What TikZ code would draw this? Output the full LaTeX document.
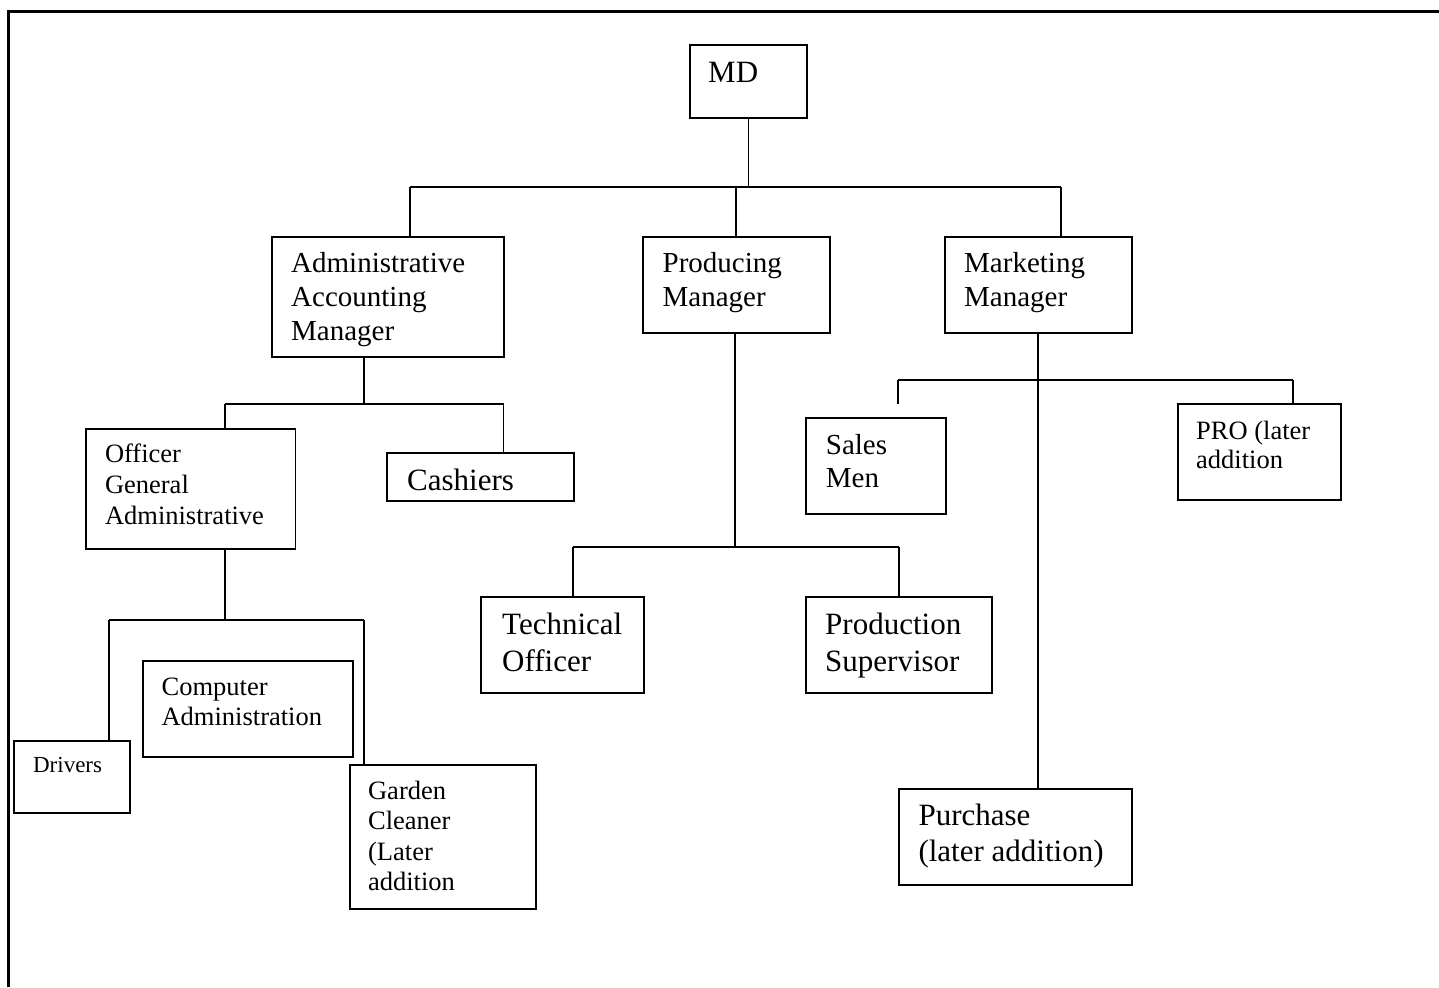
\documentclass[tikz,border=0pt]{standalone}
\usepackage{fontspec}
\setmainfont{Liberation Serif}
\newcommand\fsz[2]{\fontsize{#1}{#2}\selectfont}
\begin{document}
\begin{tikzpicture}[x=1pt,y=-1pt,
  box/.style={draw, line width=1.9pt, inner sep=0pt, anchor=north west},
  txt/.style={anchor=base west, inner sep=0pt, align=left},
  conn/.style={line width=1.9pt},
  frame/.style={line width=3pt}]
\useasboundingbox (0,0) rectangle (1439,987);
\draw[frame] (1439,12) -- (8,12) -- (8,987);

% boxes
\node[box, minimum width=117pt, minimum height=73pt] (md) at (689,44) {};
\node[box, minimum width=232pt, minimum height=120pt] (admin) at (271,236) {};
\node[box, minimum width=186.6pt, minimum height=96pt] (prod) at (642,236) {};
\node[box, minimum width=186.7pt, minimum height=96pt] (mkt) at (944,236) {};
\node[box, minimum width=209.5pt, minimum height=120pt] (off) at (85,428) {};
\node[box, minimum width=187pt, minimum height=48pt] (cash) at (386.4,452) {};
\node[box, minimum width=116.4pt, minimum height=71.7pt] (drv) at (12.9,740) {};
\node[box, minimum width=209.7pt, minimum height=95.7pt] (comp) at (142.1,660) {};
\node[box, minimum width=186pt, minimum height=144pt] (gar) at (348.6,764) {};
\node[box, minimum width=163.6pt, minimum height=96.6pt] (tech) at (479.6,595.7) {};
\node[box, minimum width=186pt, minimum height=96.6pt] (psup) at (805.4,595.7) {};
\node[box, minimum width=139.7pt, minimum height=96pt] (sales) at (805,417.3) {};
\node[box, minimum width=163.3pt, minimum height=96pt] (pro) at (1176.7,403.3) {};
\node[box, minimum width=233pt, minimum height=96pt] (pur) at (897.7,788) {};

% texts (positioned by the baseline of their last line)
\node[txt, font=\fsz{31}{36}] (tmd) at (708,83) {MD};
\node[txt, font=\fsz{29}{34}] (tadmin) at (291,340.7) {Administrative\\Accounting\\Manager};
\node[txt, font=\fsz{29}{34}] (tprod) at (662.5,306.7) {Producing\\Manager};
\node[txt, font=\fsz{29}{34}] (tmkt) at (964,306.7) {Marketing\\Manager};
\node[txt, font=\fsz{26.5}{30.7}] (toff) at (104.8,524.1) {Officer\\General\\Administrative};
\node[txt, font=\fsz{31}{36}] (tcash) at (407,490) {Cashiers};
\node[txt, font=\fsz{23}{27}] (tdrv) at (32.9,772) {Drivers};
\node[txt, font=\fsz{26.5}{30}] (tcomp) at (161.4,725) {Computer\\Administration};
\node[txt, font=\fsz{26.5}{30.6}] (tgar) at (367.9,890.8) {Garden\\Cleaner\\(Later\\addition};
\node[txt, font=\fsz{31}{36.7}] (ttech) at (502,671) {Technical\\Officer};
\node[txt, font=\fsz{31}{36.7}] (tpsup) at (825,671) {Production\\Supervisor};
\node[txt, font=\fsz{29}{33.7}] (tsales) at (825.7,487.7) {Sales\\Men};
\node[txt, font=\fsz{26.5}{29.4}] (tpro) at (1196,468.7) {PRO (later\\addition};
\node[txt, font=\fsz{31}{36}] (tpur) at (918.3,861.7) {Purchase\\(later addition)};

% level 1
\coordinate (b1L) at (410,187);
\coordinate (b1M) at (736,187);
\coordinate (b1R) at (1061,187);
\draw[conn] (md.south) -- (md.south |- b1L);
\draw[conn] (b1L) -- (b1R);
\draw[conn] (b1L) -- (b1L |- admin.north);
\draw[conn] (b1M) -- (b1M |- prod.north);
\draw[conn] (b1R) -- (b1R |- mkt.north);

% admin subtree
\coordinate (a2) at (364,404);
\coordinate (b2L) at (225,404);
\coordinate (b2R) at (503.5,404);
\draw[conn] (a2 |- admin.south) -- (a2);
\draw[conn] (b2L) -- (b2R);
\draw[conn] (b2L) -- (b2L |- off.north);
\draw[conn] (b2R) -- (b2R |- cash.north);

% officer subtree
\coordinate (a3) at (225,620);
\coordinate (b3L) at (108.6,620);
\coordinate (b3R) at (364.3,620);
\draw[conn] (a3 |- off.south) -- (a3);
\draw[conn] (b3L) -- (b3R);
\draw[conn] (b3L) -- (b3L |- drv.north);
\draw[conn] (b3R) -- (b3R |- gar.north);

% producing subtree
\coordinate (a4) at (735,547);
\coordinate (b4L) at (573.2,547);
\coordinate (b4R) at (898.6,547);
\draw[conn] (a4 |- prod.south) -- (a4);
\draw[conn] (b4L) -- (b4R);
\draw[conn] (b4L) -- (b4L |- tech.north);
\draw[conn] (b4R) -- (b4R |- psup.north);

% marketing subtree
\coordinate (a5) at (1037.6,380);
\coordinate (b5L) at (898.3,380);
\coordinate (b5R) at (1293.3,380);
\coordinate (salesend) at (898.3,404.3);
\draw[conn] (a5 |- mkt.south) -- (a5 |- pur.north);
\draw[conn] (b5L) -- (b5R);
\draw[conn] (b5L) -- (salesend);
\draw[conn] (b5R) -- (b5R |- pro.north);
\end{tikzpicture}
\end{document}
